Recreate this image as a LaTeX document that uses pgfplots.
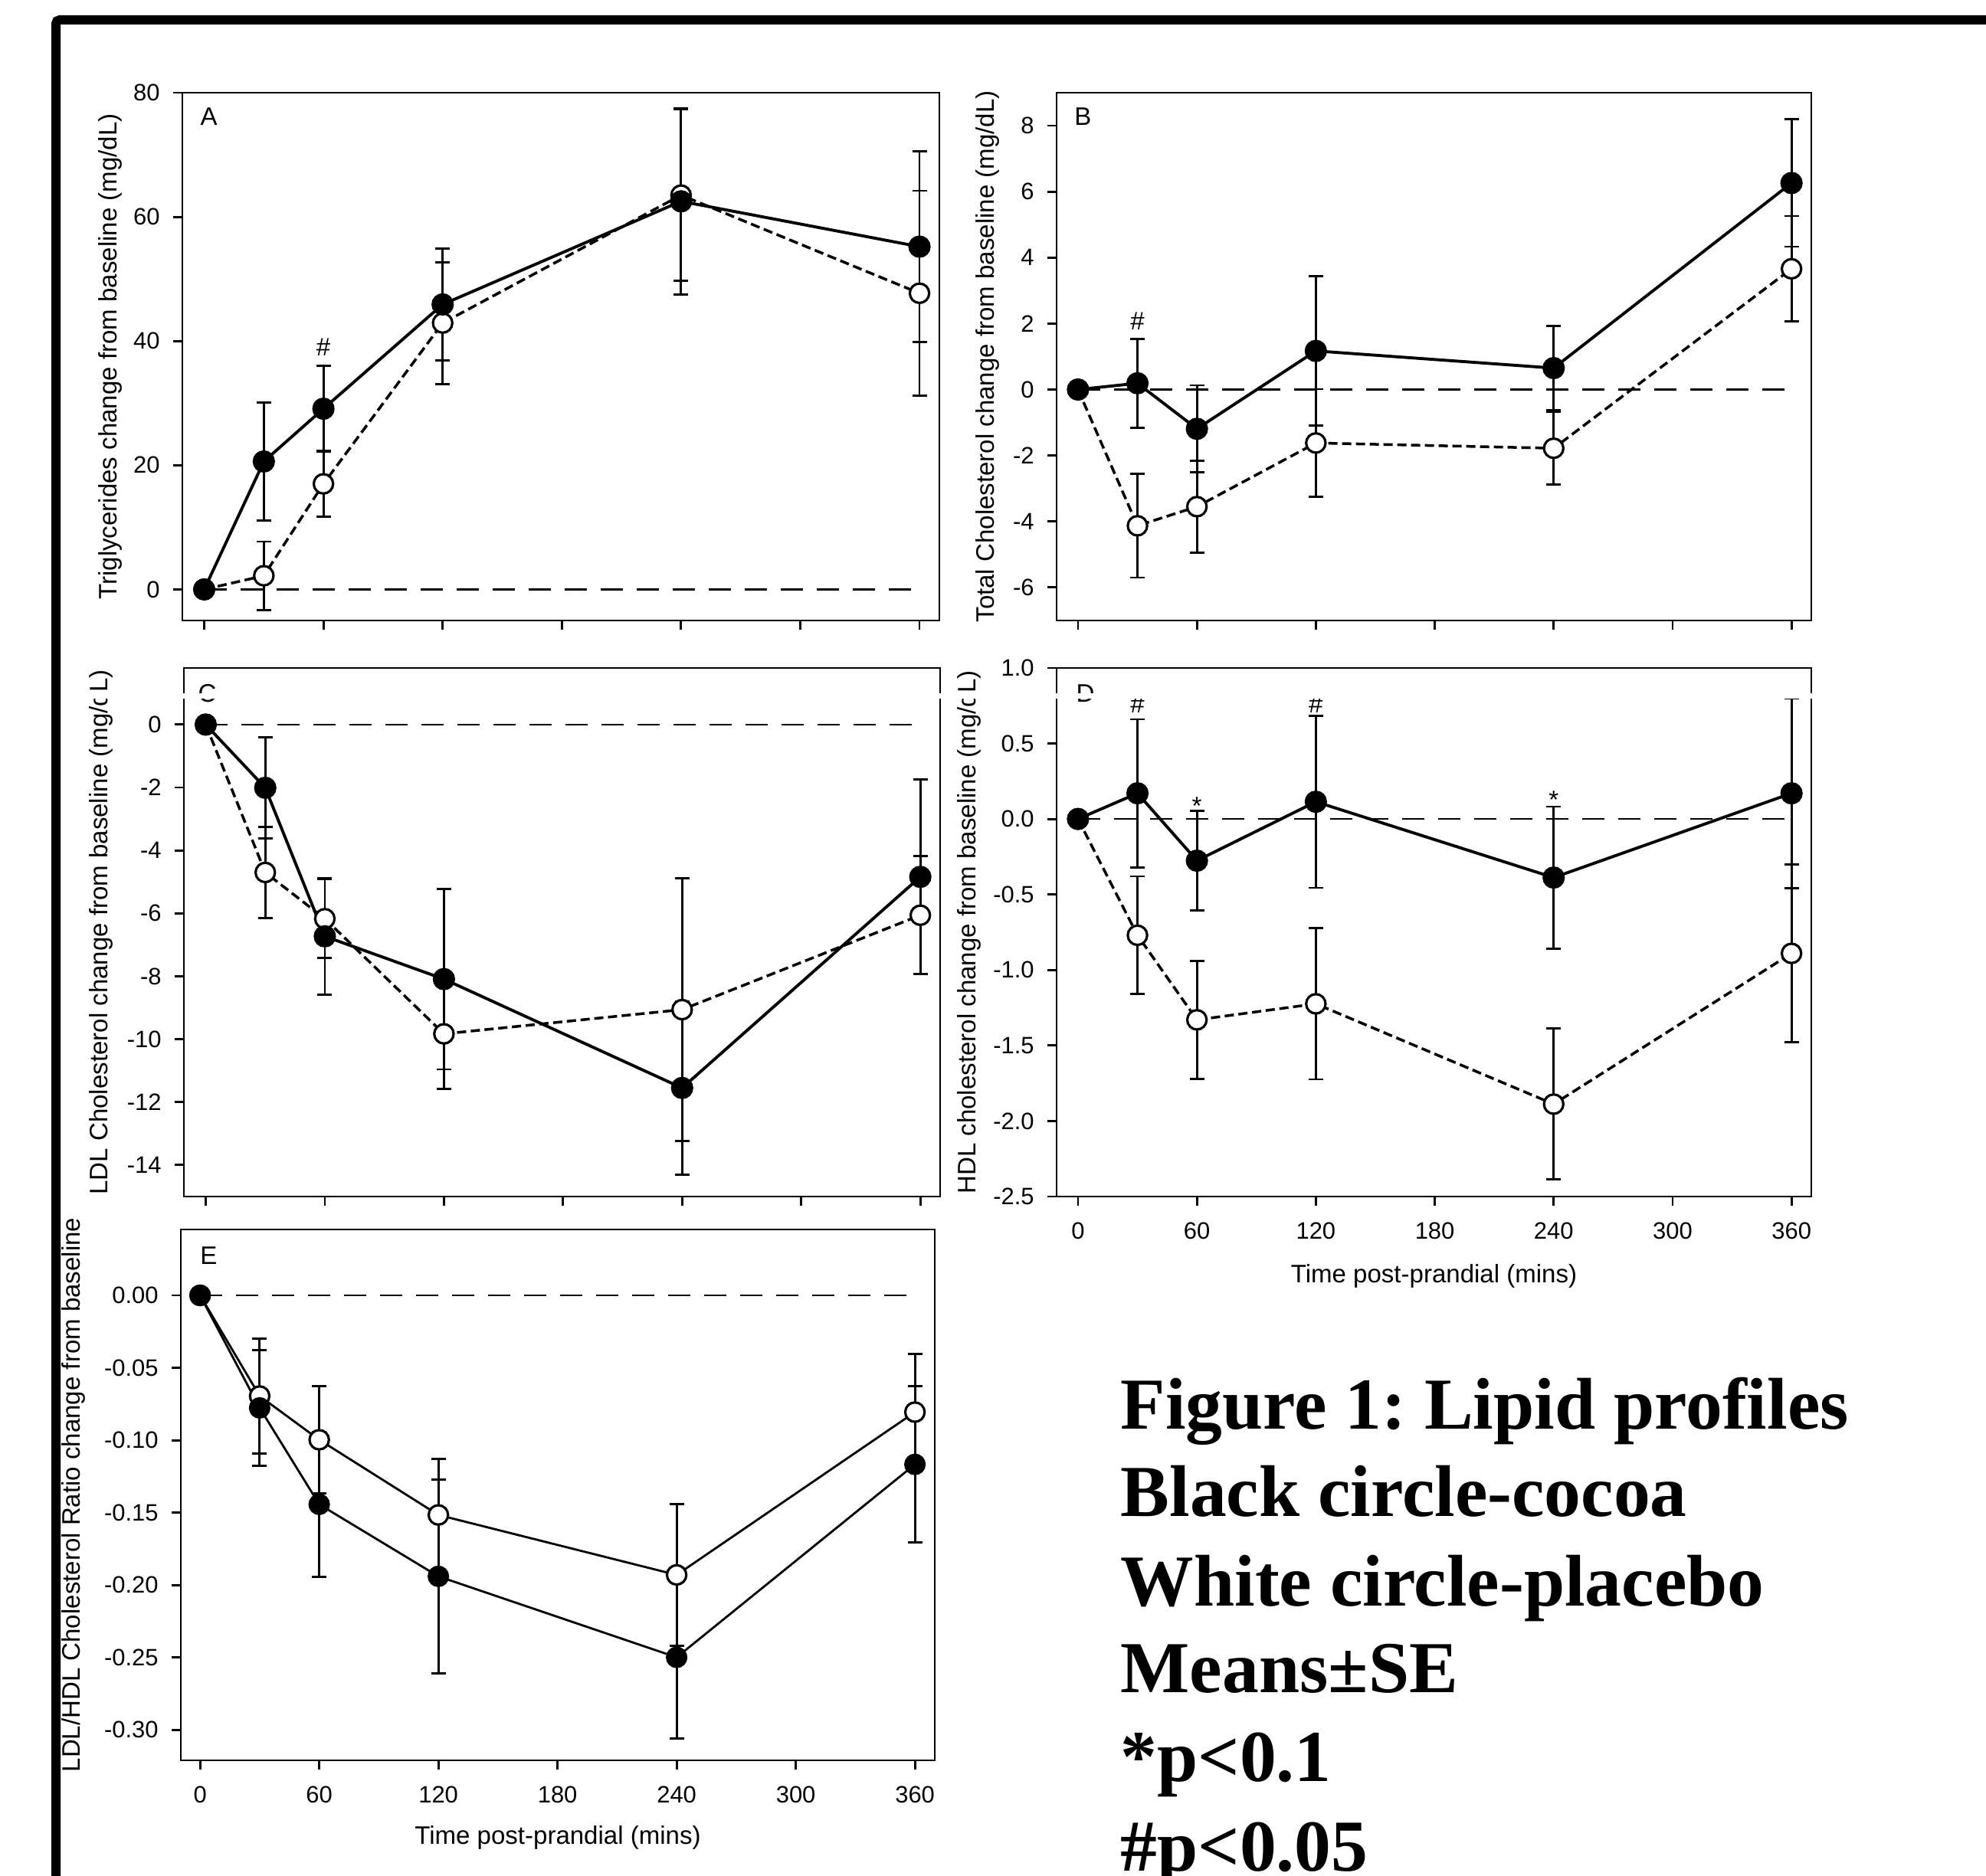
\documentclass[border=0pt]{standalone}
\usepackage{fontspec}
\setmainfont{Liberation Sans}
\newfontfamily\capfont{Liberation Serif}
\usepackage{pgfplots}
\pgfplotsset{compat=1.18}
\tikzset{letter/.style={font=\fontsize{9.4}{11}\selectfont}}
\pgfplotsset{
  panel/.style={
    scale only axis, anchor=south west, clip=false,
    axis line style={line width=0.8pt},
    tick align=outside, xtick pos=left, ytick pos=left,
    major tick length=0.12cm,
    every tick/.style={black, line width=0.8pt},
    xtick={0,60,120,180,240,300,360},
    tick label style={font=\fontsize{8.8}{10}\selectfont},
    xticklabel style={yshift=-0.1cm},
    yticklabel style={xshift=-0.05cm},
    label style={font=\fontsize{9.4}{11}\selectfont},
    /pgf/number format/assume math mode=true,
  },
  ebar/.style={error bars/y dir=both, error bars/y explicit,
    error bars/error bar style={line width=0.8pt, solid},
    error bars/error mark options={rotate=90, line width=0.8pt, mark size=0.095cm, solid}},
  cocoa/.style={black, line width=1.1pt, mark=*, mark size=3.6pt,
    mark options={solid, fill=black}, ebar},
  placebo/.style={black, line width=1pt, dash pattern=on 0.12cm off 0.06cm,
    mark=*, mark size=3.6pt, mark options={solid, fill=white, line width=0.9pt}, ebar},
  zero/.style={black, line width=0.7pt, dash pattern=on 0.29cm off 0.18cm, forget plot},
}
\begin{document}
\frenchspacing
\begin{tikzpicture}
\useasboundingbox (0,0) rectangle (25.92,24.49);

% ---- A: triglycerides
\begin{axis}[panel, at={(2.38cm,16.39cm)}, width=9.88cm, height=6.89cm,
  xmin=-11, xmax=370, ymin=-5, ymax=80,
  ytick={0,20,40,60,80}, yticklabels={0,20,40,60,80}, xticklabels={},
  ylabel={Triglycerides change from baseline (mg/dL)},
  ylabel style={at={(axis description cs:-0.095,0.5)}, anchor=center}]
\addplot[zero] coordinates {(0,0) (360,0)};
\addplot[placebo] coordinates {(0,0) +- (0,0) (30,2.2) +- (0,5.5) (60,17.0) +- (0,5.3)
  (120,42.9) +- (0,9.8) (240,63.5) +- (0,13.8) (360,47.7) +- (0,16.5)};
\addplot[cocoa] coordinates {(0,0) +- (0,0) (30,20.6) +- (0,9.5) (60,29.1) +- (0,6.9)
  (120,45.9) +- (0,9.0) (240,62.5) +- (0,15.0) (360,55.2) +- (0,15.4)};
\node[letter] at (axis description cs:0.035,0.955) {A};
\node[letter] at (axis cs:60,39) {\#};
\end{axis}

% ---- B: total cholesterol
\begin{axis}[panel, at={(13.79cm,16.39cm)}, width=9.85cm, height=6.89cm,
  xmin=-10.8, xmax=370, ymin=-7, ymax=9,
  ytick={-6,-4,-2,0,2,4,6,8}, yticklabels={-6,-4,-2,0,2,4,6,8}, xticklabels={},
  ylabel={Total Cholesterol change from baseline (mg/dL)},
  ylabel style={at={(axis description cs:-0.091,0.5)}, anchor=center}]
\addplot[zero] coordinates {(0,0) (360,0)};
\addplot[placebo] coordinates {(0,0) +- (0,0) (30,-4.13) +- (0,1.57) (60,-3.55) +- (0,1.40)
  (120,-1.62) +- (0,1.63) (240,-1.78) +- (0,1.10) (360,3.66) +- (0,1.60)};
\addplot[cocoa] coordinates {(0,0) +- (0,0) (30,0.19) +- (0,1.35) (60,-1.19) +- (0,1.32)
  (120,1.17) +- (0,2.27) (240,0.65) +- (0,1.28) (360,6.26) +- (0,1.93)};
\node[letter] at (axis description cs:0.035,0.955) {B};
\node[letter] at (axis cs:30,2.07) {\#};
\end{axis}

% ---- C: LDL
\begin{axis}[panel, at={(2.40cm,8.87cm)}, width=9.87cm, height=6.90cm,
  xmin=-11, xmax=370, ymin=-15, ymax=1.8,
  ytick={-14,-12,-10,-8,-6,-4,-2,0}, yticklabels={-14,-12,-10,-8,-6,-4,-2,0}, xticklabels={},
  ylabel={LDL Cholesterol change from baseline (mg/dL)},
  ylabel style={at={(axis description cs:-0.109,0.5)}, anchor=center}]
\addplot[zero] coordinates {(0,0) (360,0)};
\addplot[placebo] coordinates {(0,0) +- (0,0) (30,-4.70) +- (0,1.45) (60,-6.17) +- (0,1.25)
  (120,-9.83) +- (0,1.75) (240,-9.06) +- (0,4.18) (360,-6.06) +- (0,1.88)};
\addplot[cocoa] coordinates {(0,0) +- (0,0) (30,-2.01) +- (0,1.6) (60,-6.73) +- (0,1.86)
  (120,-8.09) +- (0,2.87) (240,-11.55) +- (0,2.76) (360,-4.84) +- (0,3.09)};
\node[letter] at (axis description cs:0.031,0.952) {C};
\end{axis}

% ---- D: HDL
\begin{axis}[panel, at={(13.79cm,8.87cm)}, width=9.85cm, height=6.90cm,
  xmin=-10.8, xmax=370, ymin=-2.5, ymax=1.0,
  ytick={-2.5,-2,-1.5,-1,-0.5,0,0.5,1}, yticklabels={-2.5,-2.0,-1.5,-1.0,-0.5,0.0,0.5,1.0},
  xticklabels={0,60,120,180,240,300,360},
  xlabel={Time post-prandial (mins)},
  xlabel style={at={(axis description cs:0.5,-0.15)}, anchor=center},
  ylabel={HDL cholesterol change from baseline (mg/dL)},
  ylabel style={at={(axis description cs:-0.116,0.5)}, anchor=center}]
\addplot[zero] coordinates {(0,0) (360,0)};
\addplot[placebo] coordinates {(0,0) +- (0,0) (30,-0.77) +- (0,0.39) (60,-1.33) +- (0,0.39)
  (120,-1.224) +- (0,0.50) (240,-1.888) +- (0,0.50) (360,-0.89) +- (0,0.59)};
\addplot[cocoa] coordinates {(0,0) +- (0,0) (30,0.17) +- (0,0.49) (60,-0.276) +- (0,0.33)
  (120,0.114) +- (0,0.57) (240,-0.388) +- (0,0.47) (360,0.17) +- (0,0.63)};
\node[letter] at (axis description cs:0.038,0.952) {D};
\node[letter] at (axis cs:30,0.76) {\#};
\node[letter] at (axis cs:120,0.76) {\#};
\node[letter] at (axis cs:60,0.085) {*};
\node[letter] at (axis cs:240,0.125) {*};
\end{axis}

% ---- E: LDL/HDL ratio
\begin{axis}[panel, at={(2.36cm,1.51cm)}, width=9.84cm, height=6.93cm,
  xmin=-9.7, xmax=370, ymin=-0.321, ymax=0.0455,
  ytick={-0.3,-0.25,-0.2,-0.15,-0.1,-0.05,0},
  yticklabels={-0.30,-0.25,-0.20,-0.15,-0.10,-0.05,0.00},
  xticklabels={0,60,120,180,240,300,360},
  xlabel={Time post-prandial (mins)},
  xlabel style={at={(axis description cs:0.5,-0.145)}, anchor=center},
  ylabel={LDL/HDL Cholesterol Ratio change from baseline},
  ylabel style={at={(axis description cs:-0.142,0.5)}, anchor=center}]
\addplot[zero] coordinates {(0,0) (360,0)};
\addplot[placebo, solid, line width=0.8pt] coordinates {(0,0) +- (0,0) (30,-0.0695) +- (0,0.0395)
  (60,-0.0997) +- (0,0.037) (120,-0.1516) +- (0,0.0386) (240,-0.193) +- (0,0.0488)
  (360,-0.0806) +- (0,0.040)};
\addplot[cocoa, line width=0.8pt] coordinates {(0,0) +- (0,0) (30,-0.0777) +- (0,0.040)
  (60,-0.1443) +- (0,0.050) (120,-0.194) +- (0,0.067) (240,-0.2499) +- (0,0.056)
  (360,-0.1167) +- (0,0.054)};
\node[letter] at (axis description cs:0.037,0.95) {E};
\end{axis}

% white scan gap across panels C and D
\fill[white] (1.0,15.37) rectangle (23.9,15.44);

% frame
\draw[line width=0.12cm, rounded corners=0.05cm] (0.73,-1) -- (0.73,24.23) -- (27,24.23);

% caption
\begin{scope}[every node/.style={anchor=base west, inner sep=0pt,
    font=\capfont\bfseries\fontsize{27.2}{30}\selectfont}]
\node at (14.62,5.83) {Figure 1: Lipid profiles};
\node at (14.62,4.69) {Black circle-cocoa};
\node at (14.62,3.52) {White circle-placebo};
\node at (14.62,2.39) {Means±SE};
\node at (14.62,1.23) {*p<0.1};
\node at (14.62,0.06) {\#p<0.05};
\end{scope}
\end{tikzpicture}
\end{document}
